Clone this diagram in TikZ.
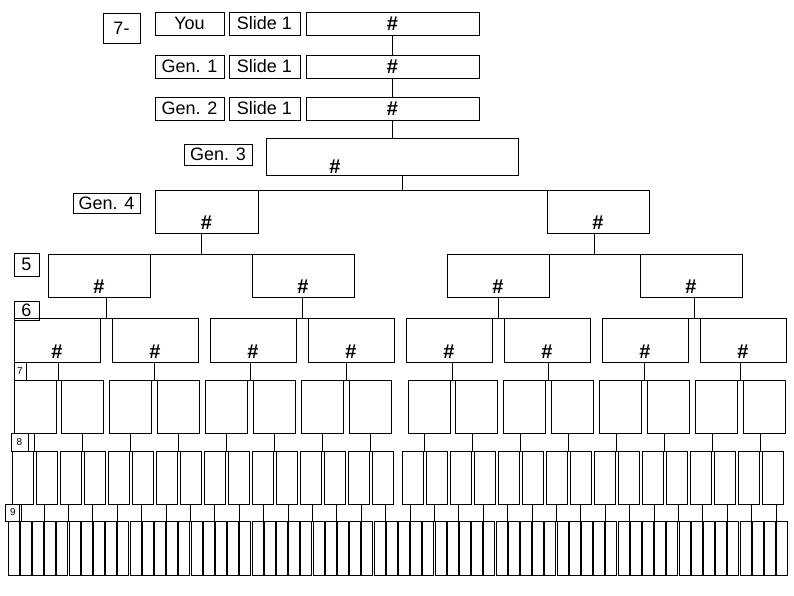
\documentclass[tikz,border=0pt]{standalone}
\usepackage{fontspec}
\setmainfont{Liberation Sans}
\usetikzlibrary{positioning, calc}
\tikzset{
  cell/.style     = {draw, line width=1pt, anchor=north west, inner sep=0pt, outer sep=0pt},
  boxsize/.style 2 args = {minimum width=#1pt, minimum height=#2pt},
  tag/.style      = {cell, font=\fontsize{18}{21}\selectfont},
  smalltag/.style = {cell, font=\fontsize{10}{12}\selectfont},
  numtag/.style   = {cell, font=\fontsize{20}{22}\selectfont\bfseries},
  hash/.style     = {anchor=south, inner sep=3pt, font=\fontsize{20}{22}\selectfont\bfseries},
  link/.style     = {line width=1pt},
}

\begin{document}
\begin{tikzpicture}[x=1pt, y=-1pt]
  \path[use as bounding box, fill=white] (0,0) rectangle (794,595);

  % you, gen. 1, gen. 2
  \node[tag, boxsize={37}{30}] (seven) at (103,13) {7-};
  \node[tag, boxsize={69}{23}] (you) at (155,12) {You};
  \node[tag, boxsize={71}{23}] (you-slide) at (229,12) {Slide 1};
  \node[numtag, boxsize={173}{23}] (you-num) at (306,12) {\#};
  \node[tag, boxsize={69}{23}] (gen1) at (155,55) {Gen. 1};
  \node[tag, boxsize={71}{23}] (gen1-slide) at (229,55) {Slide 1};
  \node[numtag, boxsize={173}{23}] (gen1-num) at (306,55) {\#};
  \node[tag, boxsize={69}{23}] (gen2) at (155,97) {Gen. 2};
  \node[tag, boxsize={71}{23}] (gen2-slide) at (229,97) {Slide 1};
  \node[numtag, boxsize={173}{23}] (gen2-num) at (306,97) {\#};

  % gen. 3 and 4
  \node[tag, boxsize={68}{21}] (gen3) at (184,144) {Gen. 3};
  \node[cell, boxsize={252}{37}, label={[hash, xshift=-57pt, inner sep=1pt]south:\#}] (g3-1) at (266,138) {};
  \node[tag, boxsize={67}{20}] (gen4) at (73,193) {Gen. 4};
  \node[cell, boxsize={103}{43}, label={[hash]south:\#}] (g4-1) at (155,190) {};
  \node[cell, boxsize={102}{43}, label={[hash]south:\#}] (g4-2) at (547,190) {};

  % gen. 5 to 9
  \node[tag, boxsize={25}{23}] (five) at (14,253) {5};
  \foreach \x [count=\i] in {48,252,447,640} {
    \node[cell, boxsize={102}{43}, label={[hash]south:\#}] (g5-\i) at (\x,254) {};
  }
  \node[tag, boxsize={25}{19}] (six) at (14,301) {6};
  \foreach \i in {1,...,8} {
    \node[cell, boxsize={86}{44}, label={[hash]south:\#}] (g6-\i) at ({14+98*(\i-1)},318) {};
  }
  \node[smalltag, boxsize={12}{18}] (seventh) at (14,362) {7};
  \foreach \i in {1,...,16} {
    \node[cell, boxsize={42}{53}] (g7-\i) at ({14+47.9*(\i-1)+(\i>8)*10.8},380) {};
  }
  \node[smalltag, boxsize={17}{18}] (eighth) at (11,433) {8};
  \foreach \i in {1,...,32} {
    \node[cell, boxsize={21}{53}] (g8-\i) at ({12+24*(\i-1)+(\i>16)*6},451) {};
  }
  \node[smalltag, boxsize={16}{17}] (ninth) at (5,504) {9};
  \foreach \i in {1,...,64} {
    \node[cell, boxsize={11}{54}] (g9-\i) at ({8+12.2*(\i-1)},521) {};
  }

  % connectors
  \draw[link] (you-num.south) -- (gen1-num.north);
  \draw[link] (gen1-num.south) -- (gen2-num.north);
  \draw[link] (gen2-num.south) -- (gen2-num.south |- g3-1.north);
  \foreach \p/\c/\n in {3/4/1,4/5/2,5/6/4,6/7/8,7/8/16,8/9/32} {
    \foreach \i in {1,...,\n} {
      \pgfmathtruncatemacro\ka{2*\i-1}
      \pgfmathtruncatemacro\kb{2*\i}
      \draw[link] (g\c-\ka.north east) -- (g\c-\kb.north west);
      \coordinate (mid) at ($(g\c-\ka.north east)!.5!(g\c-\kb.north west)$);
      \draw[link] (mid) -- (mid |- g\p-\i.south);
    }
  }
\end{tikzpicture}
\end{document}
